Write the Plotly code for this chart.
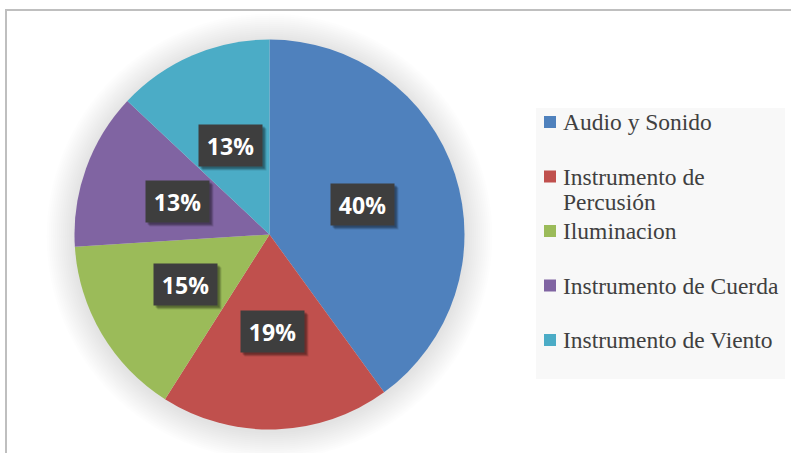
import math
import plotly.graph_objects as go

# Product categories and their share (%)
categories = ["Audio y Sonido", "Instrumento de Percusión", "Iluminacion",
              "Instrumento de Cuerda", "Instrumento de Viento"]
shares = [40, 19, 15, 13, 13]
colors = ["#4F81BD", "#C0504D", "#9BBB59", "#8064A2", "#4BACC6"]

W, H = 791, 453
CX, CY, R = 269.5, 234.5, 195.0   # pie centre / radius in pixels


def px(x):
    return x / W


def py(y):
    return 1 - y / H


fig = go.Figure()
fig.add_trace(go.Pie(
    labels=categories, values=shares, sort=False, direction="clockwise",
    rotation=0, marker=dict(colors=colors, line=dict(width=0)),
    textinfo="none", hoverinfo="label+percent", showlegend=False,
    domain=dict(x=[px(CX - R), px(CX + R)], y=[py(CY + R), py(CY - R)]),
))

shapes = []
# soft glow behind the pie
N = 14
for k in range(N, 0, -1):
    rr = R + 2 * k
    oy = 2
    shapes.append(dict(type="circle", xref="paper", yref="paper", layer="below",
                       x0=px(CX - rr), x1=px(CX + rr),
                       y0=py(CY + oy + rr), y1=py(CY + oy - rr),
                       fillcolor="rgba(0,0,0,0.009)", line=dict(width=0)))

# chart frame (top and left edges)
shapes.append(dict(type="line", xref="paper", yref="paper", x0=px(5), x1=1,
                   y0=py(10), y1=py(10), line=dict(color="#BFBFBF", width=2)))
shapes.append(dict(type="line", xref="paper", yref="paper", x0=px(6), x1=px(6),
                   y0=py(10), y1=0, line=dict(color="#BFBFBF", width=2)))

annotations = []
# percentage labels in dark boxes at half radius
total = sum(shares)
cum = 0
for v in shares:
    mid = (cum + v / 2) / total * 2 * math.pi
    cum += v
    lx = CX + 0.5 * R * math.sin(mid)
    ly = CY - 0.5 * R * math.cos(mid)
    for dx, dy, a in [(4, 4, 0.12), (3, 3, 0.18), (2, 2, 0.2)]:
        annotations.append(dict(x=px(lx + dx), y=py(ly + dy), xref="paper", yref="paper",
                                xanchor="center", yanchor="middle",
                                text=" ", showarrow=False, width=63, height=41,
                                bgcolor=f"rgba(0,0,0,{a})", borderpad=0))
    annotations.append(dict(x=px(lx), y=py(ly), xref="paper", yref="paper",
                            xanchor="center", yanchor="middle",
                            text=f"<b>{v}%</b>", showarrow=False, width=63, height=41,
                            bgcolor="#3E3E3E", borderpad=0,
                            font=dict(family="Open Sans", size=23, color="white")))

# legend panel
shapes.append(dict(type="rect", xref="paper", yref="paper", layer="below",
                   x0=px(536), x1=px(785), y0=py(379), y1=py(108),
                   fillcolor="#F8F8F8", line=dict(width=0)))


def wrap(text, maxlen=22):
    lines, cur = [], ""
    for w in text.split(" "):
        trial = (cur + " " + w).strip()
        if len(trial) > maxlen and cur:
            lines.append(cur)
            cur = w
        else:
            cur = trial
    lines.append(cur)
    return lines


LEG_Y0, LEG_STEP, LINE_H = 122, 54.5, 26
for i, (name, c) in enumerate(zip(categories, colors)):
    y = LEG_Y0 + i * LEG_STEP
    shapes.append(dict(type="rect", xref="paper", yref="paper",
                       x0=px(544), x1=px(556), y0=py(y + 6), y1=py(y - 6),
                       fillcolor=c, line=dict(width=0)))
    for j, line in enumerate(wrap(name)):
        annotations.append(dict(x=px(561), y=py(y + j * LINE_H), xref="paper", yref="paper",
                                xanchor="left", yanchor="middle", text=line,
                                showarrow=False,
                                font=dict(family="Liberation Serif", size=23.5,
                                          color="#404040")))

fig.update_layout(width=W, height=H, margin=dict(l=0, r=0, t=0, b=0),
                  paper_bgcolor="white", plot_bgcolor="white",
                  shapes=shapes, annotations=annotations)

fig.write_html("out.html")
